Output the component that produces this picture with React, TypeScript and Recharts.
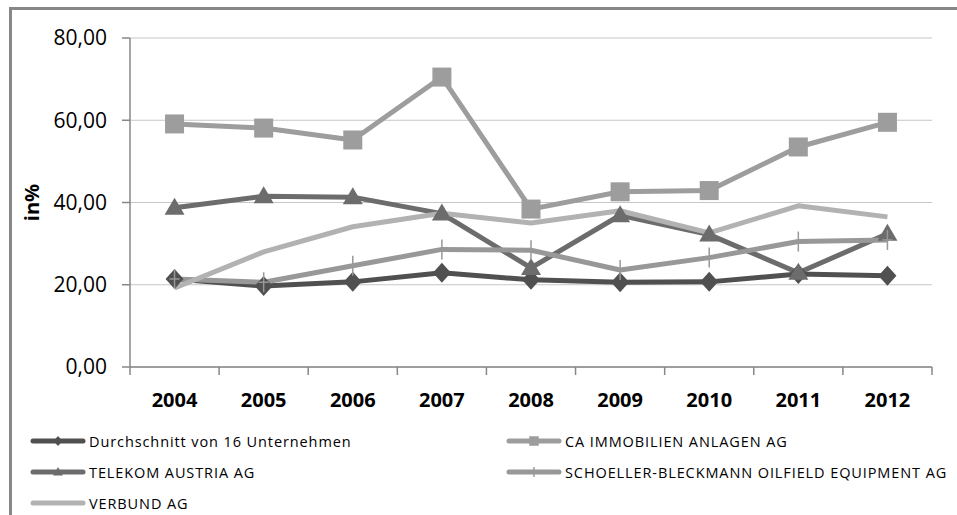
import React from 'react';
import { CartesianGrid, Line, LineChart, XAxis, YAxis } from 'recharts';

// Werte in % je Jahr
const years = ['2004', '2005', '2006', '2007', '2008', '2009', '2010', '2011', '2012'];
const durchschnitt = [21.4, 19.7, 20.7, 22.9, 21.2, 20.6, 20.7, 22.6, 22.2];
const caImmobilien = [59.1, 58.1, 55.2, 70.5, 38.4, 42.6, 42.9, 53.5, 59.5];
const telekom = [38.7, 41.5, 41.3, 37.3, 24.1, 36.9, 32.2, 22.9, 32.4];
const schoeller = [21.4, 20.6, 24.6, 28.6, 28.4, 23.6, 26.6, 30.5, 30.9];
const verbund = [19.2, 28.0, 34.1, 37.4, 35.0, 38.0, 32.6, 39.2, 36.5];
const yTicks = [0, 20, 40, 60, 80];

type Marker = 'diamond' | 'square' | 'triangle' | 'plus' | 'none';

interface Series {
  key: string;
  name: string;
  values: number[];
  color: string;
  marker: Marker;
}

const series: Series[] = [
  { key: 'durch', name: 'Durchschnitt von 16 Unternehmen', values: durchschnitt, color: '#505050', marker: 'diamond' },
  { key: 'ca', name: 'CA IMMOBILIEN ANLAGEN AG', values: caImmobilien, color: '#9d9d9d', marker: 'square' },
  { key: 'telekom', name: 'TELEKOM AUSTRIA AG', values: telekom, color: '#6c6c6c', marker: 'triangle' },
  { key: 'sbo', name: 'SCHOELLER-BLECKMANN OILFIELD EQUIPMENT AG', values: schoeller, color: '#989898', marker: 'plus' },
  { key: 'verbund', name: 'VERBUND AG', values: verbund, color: '#b2b2b2', marker: 'none' },
];

const data = years.map((year, i) => {
  const row: Record<string, string | number> = { year };
  series.forEach((s) => {
    row[s.key] = s.values[i];
  });
  return row;
});

const axisGray = '#878787';
const font = '"Open Sans", "Noto Sans", sans-serif';

function markerShape(type: Marker, cx: number, cy: number, color: string, k: number, key?: React.Key) {
  switch (type) {
    case 'diamond':
      return (
        <polygon
          key={key}
          points={`${cx},${cy - 10 * k} ${cx + 9 * k},${cy} ${cx},${cy + 10 * k} ${cx - 9 * k},${cy}`}
          fill={color}
        />
      );
    case 'square':
      return <rect key={key} x={cx - 9.5 * k} y={cy - 9.5 * k} width={19 * k} height={19 * k} fill={color} />;
    case 'triangle':
      return (
        <polygon
          key={key}
          points={`${cx},${cy - 10 * k} ${cx + 10 * k},${cy + 7 * k} ${cx - 10 * k},${cy + 7 * k}`}
          fill={color}
        />
      );
    case 'plus':
      return (
        <g key={key}>
          <line x1={cx} x2={cx} y1={cy - 10 * k} y2={cy + 10 * k} stroke={color} strokeWidth={1.5} />
          <line x1={cx - 5 * k} x2={cx + 5 * k} y1={cy} y2={cy} stroke={color} strokeWidth={1.5} />
        </g>
      );
    default:
      return <g key={key} />;
  }
}

// Jahreslabel mit Teilstrichen an den Kategoriegrenzen
function YearTick(props: any) {
  const { x, y, payload, width } = props;
  const half = payload.offset > 0 ? payload.offset : width / years.length / 2;
  const last = payload.value === years[years.length - 1];
  return (
    <g>
      <line x1={x - half} x2={x - half} y1={y} y2={y + 8} stroke={axisGray} strokeWidth={1.5} />
      {last && <line x1={x + half} x2={x + half} y1={y} y2={y + 8} stroke={axisGray} strokeWidth={1.5} />}
      <text x={x} y={y + 40} textAnchor="middle" fontWeight="bold" fontSize={20} fill="#000" fontFamily={font}>
        {payload.value}
      </text>
    </g>
  );
}

function AxisTitle(props: any) {
  const vb = props.viewBox || {};
  const x = 31;
  const y = vb.y + vb.height / 2;
  return (
    <text
      x={x}
      y={y}
      transform={`rotate(-90, ${x}, ${y})`}
      textAnchor="middle"
      dominantBaseline="central"
      fontWeight="bold"
      fontSize={20}
      fill="#000"
      fontFamily={font}
    >
      in%
    </text>
  );
}

function LegendBlock() {
  return (
    <div style={{ position: 'absolute', left: 0, top: 0, width: 957, height: 515, pointerEvents: 'none' }}>
      {series.map((s, i) => {
        const left = i % 2 === 0 ? 30 : 506;
        const top = 441 + Math.floor(i / 2) * 31;
        return (
          <div key={s.key} style={{ position: 'absolute', left, top: top - 10, height: 20, display: 'flex', alignItems: 'center' }}>
            <svg width={56} height={20}>
              <line x1={3} x2={53} y1={10} y2={10} stroke={s.color} strokeWidth={5} strokeLinecap="round" />
              {markerShape(s.marker, 28, 10, s.color, 0.5)}
            </svg>
            <span
              style={{
                marginLeft: 3,
                fontFamily: font,
                fontSize: 14.5,
                letterSpacing: 0.9,
                color: '#000',
                whiteSpace: 'nowrap',
              }}
            >
              {s.name}
            </span>
          </div>
        );
      })}
    </div>
  );
}

export default function App() {
  return (
    <div style={{ position: 'absolute', left: 0, top: 0, width: 957, height: 515, overflow: 'hidden', background: '#fff' }}>
      <div
        style={{
          position: 'absolute',
          left: 9,
          top: 7,
          width: 1100,
          height: 700,
          borderTop: `3px solid ${axisGray}`,
          borderLeft: `3px solid ${axisGray}`,
        }}
      />
      <LineChart
        width={957}
        height={515}
        data={data}
        margin={{ top: 38, right: 25, left: 10, bottom: 108 }}
        style={{ position: 'absolute', left: 0, top: 0, fontFamily: font }}
      >
        <CartesianGrid vertical={false} stroke="#c6c6c6" strokeWidth={1.2} />
        <XAxis
          dataKey="year"
          scale="band"
          height={40}
          tickSize={0}
          tickMargin={0}
          tickLine={false}
          axisLine={{ stroke: axisGray, strokeWidth: 1.5 }}
          tick={<YearTick />}
          interval={0}
        />
        <XAxis
          xAxisId="top"
          orientation="top"
          dataKey="year"
          scale="band"
          height={0}
          tick={false}
          tickLine={false}
          axisLine={{ stroke: axisGray, strokeWidth: 1.5 }}
        />
        <YAxis
          width={120}
          domain={[0, 80]}
          ticks={yTicks}
          interval={0}
          tickSize={8}
          tickMargin={15}
          tickLine={{ stroke: axisGray, strokeWidth: 1.5 }}
          axisLine={{ stroke: axisGray, strokeWidth: 1.5 }}
          tick={{ fill: '#000', fontSize: 21, fontFamily: font }}
          tickFormatter={(v: number) => v.toFixed(2).replace('.', ',')}
          label={<AxisTitle />}
        />
        <YAxis
          yAxisId="right"
          orientation="right"
          width={0}
          domain={[0, 80]}
          tick={false}
          tickLine={false}
          axisLine={{ stroke: axisGray, strokeWidth: 1.5 }}
        />
        {series.map((s) => (
          <Line
            key={s.key}
            type="linear"
            dataKey={s.key}
            name={s.name}
            stroke={s.color}
            strokeWidth={5}
            strokeLinejoin="round"
            isAnimationActive={false}
            activeDot={false}
            dot={(p: any) => markerShape(s.marker, p.cx, p.cy, s.color, 1, `${s.key}-${p.index}`)}
          />
        ))}
      </LineChart>
      <LegendBlock />
    </div>
  );
}
